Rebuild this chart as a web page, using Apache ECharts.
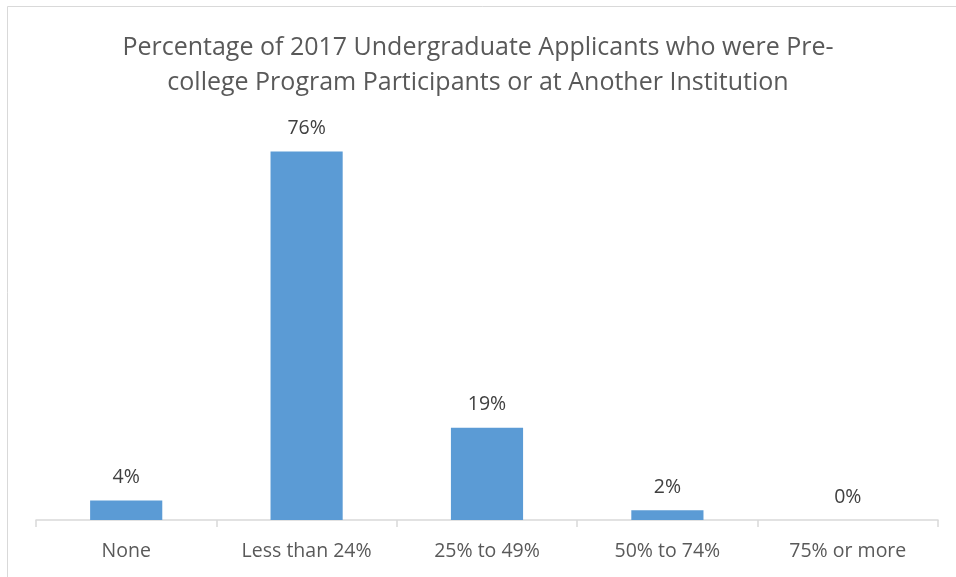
<!DOCTYPE html>
<html>
<head>
<meta charset="utf-8">
<title>Pre-college applicants</title>
<script src="https://cdn.jsdelivr.net/npm/echarts@6/dist/echarts.min.js"></script>
<style>
  html, body { margin: 0; padding: 0; background: #fff; }
  #chart { width: 956px; height: 577px; }
</style>
</head>
<body>
<div id="chart"></div>
<script>
const categories = ['None', 'Less than 24%', '25% to 49%', '50% to 74%', '75% or more']
const percents = [4, 76, 19, 2, 0]
const titleLines = [
  'Percentage of 2017 Undergraduate Applicants who were Pre-',
  'college Program Participants or at Another Institution'
]

const fontFamily = '"Open Sans", "Noto Sans", sans-serif'
const chart = echarts.init(document.getElementById('chart'))

chart.setOption({
  animation: false,
  backgroundColor: '#fff',
  graphic: [{
    type: 'rect',
    shape: { x: 7.5, y: 6.5, width: 1000, height: 700 },
    style: { fill: 'none', stroke: '#d9d9d9', lineWidth: 1 },
    silent: true
  }],
  title: {
    text: titleLines.join('\n'),
    left: 'center',
    top: 25,
    textStyle: {
      fontFamily,
      fontSize: 25,
      fontWeight: 'normal',
      color: '#595959',
      lineHeight: 35
    }
  },
  grid: {
    top: 132,
    bottom: 57,
    left: 36,
    right: 18,
    containLabel: false
  },
  xAxis: {
    type: 'category',
    data: categories,
    axisLine: { lineStyle: { color: '#d9d9d9', width: 1.5 } },
    axisTick: { show: true, length: 7, lineStyle: { color: '#d9d9d9', width: 1.5 } },
    axisLabel: {
      fontFamily,
      fontSize: 19.5,
      color: '#595959',
      margin: 21
    }
  },
  yAxis: {
    type: 'value',
    min: 0,
    max: 80,
    show: false,
    splitLine: { show: false }
  },
  series: [{
    type: 'bar',
    data: percents,
    barWidth: '40%',
    itemStyle: { color: '#5b9bd5' },
    label: {
      show: true,
      position: 'top',
      distance: 13,
      formatter: p => p.value + '%',
      fontFamily,
      fontSize: 19.5,
      color: '#404040'
    }
  }]
})
</script>
</body>
</html>
